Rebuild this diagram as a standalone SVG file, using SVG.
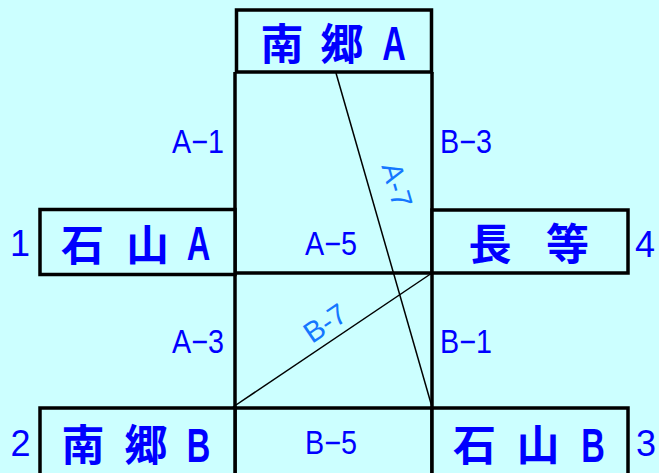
<svg xmlns="http://www.w3.org/2000/svg" width="659" height="473" viewBox="0 0 659 473">
<style>
.box{fill:#ccffff;stroke:#000;stroke-width:3.5}
.col{stroke:#000;stroke-width:3.5;fill:none}
.diag{stroke:#000;stroke-width:1.5;fill:none}
.cjk{font-family:"Noto Sans CJK JP","Liberation Sans",sans-serif;font-weight:bold;font-size:43px;fill:#0000ff;text-anchor:middle}
.lat{font-family:"Liberation Sans","Noto Sans CJK JP",sans-serif;font-weight:bold;font-size:48px;fill:#0000ff;text-anchor:middle}
.lbl{font-family:"Liberation Sans",sans-serif;font-size:33px;fill:#0000ff}
.num{font-family:"Liberation Sans",sans-serif;font-size:36px;fill:#0000ff;text-anchor:middle}
.rot{font-family:"Liberation Sans",sans-serif;font-size:29px;fill:#1477ff;text-anchor:middle}
</style>
<rect x="0" y="0" width="659" height="473" fill="#ccffff"/>
<g id="column">
<line class="col" x1="235" y1="72" x2="235" y2="473"/>
<line class="col" x1="432" y1="72" x2="432" y2="473"/>
<line class="col" x1="232" y1="273" x2="432" y2="273"/>
<line class="col" x1="235" y1="408" x2="432" y2="408"/>
<text class="lbl" transform="translate(172,153) scale(0.87,1)">A−1</text>
<text class="lbl" transform="translate(440,153) scale(0.87,1)">B−3</text>
<text class="lbl" transform="translate(305,255) scale(0.87,1)">A−5</text>
<text class="lbl" transform="translate(172,353) scale(0.87,1)">A−3</text>
<text class="lbl" transform="translate(440,353) scale(0.87,1)">B−1</text>
<text class="lbl" transform="translate(305,454) scale(0.87,1)">B−5</text>
</g>
<g id="nangoA">
<rect class="box" x="236.5" y="10" width="195" height="62"/>
<text class="cjk" x="282" y="59.5">南</text>
<text class="cjk" x="342" y="59.5">郷</text>
<text class="lat" transform="translate(394,60) scale(0.68,1)">A</text>
</g>
<g id="ishiyamaA">
<rect class="box" x="40" y="209.5" width="195" height="65"/>
<text class="cjk" x="82.5" y="261">石</text>
<text class="cjk" x="147.5" y="261">山</text>
<text class="lat" transform="translate(198.5,260) scale(0.68,1)">A</text>
<text class="num" x="20" y="256">1</text>
</g>
<g id="nagara">
<rect class="box" x="432" y="210" width="196" height="63"/>
<text class="cjk" x="490" y="260">長</text>
<text class="cjk" x="567.5" y="260">等</text>
<text class="num" x="645" y="257">4</text>
</g>
<g id="nangoB">
<rect class="box" x="40" y="408" width="195" height="80"/>
<text class="cjk" x="83" y="461">南</text>
<text class="cjk" x="146" y="461">郷</text>
<text class="lat" transform="translate(198.5,462) scale(0.68,1)">B</text>
<text class="num" x="20.5" y="456">2</text>
</g>
<g id="ishiyamaB">
<rect class="box" x="432" y="408" width="196" height="80"/>
<text class="cjk" x="474.5" y="461">石</text>
<text class="cjk" x="538" y="461">山</text>
<text class="lat" transform="translate(593,462) scale(0.68,1)">B</text>
<text class="num" x="646" y="456">3</text>
</g>
<g id="connectors">
<line class="diag" x1="336" y1="73" x2="432" y2="407"/>
<line class="diag" x1="233" y1="407" x2="432" y2="273"/>
<text class="rot" transform="translate(397,185) rotate(74)" y="10">A-7</text>
<text class="rot" transform="translate(325,323) rotate(-34)" y="10">B-7</text>
</g>
</svg>
